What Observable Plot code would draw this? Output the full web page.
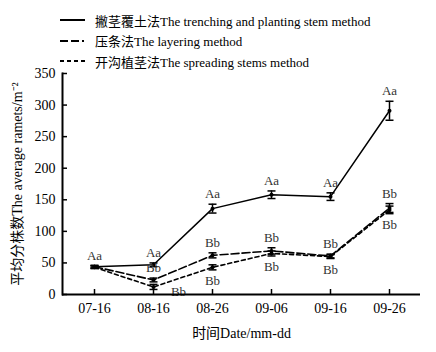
<!DOCTYPE html>
<html><head><meta charset="utf-8">
<script src="https://cdn.jsdelivr.net/npm/d3@7"></script>
<script src="https://cdn.jsdelivr.net/npm/@observablehq/plot@0.6"></script>
<style>
body{margin:0;background:#fff;}
#wrap{position:relative;width:436px;height:352px;font-family:"Liberation Serif","Noto Sans CJK SC",serif;}
.leg{position:absolute;left:60px;font-size:13px;height:16px;display:flex;align-items:center;white-space:nowrap;color:#000}
.leg svg{margin-right:6px}
#chart{position:absolute;left:0;top:0}
#chart svg text{font-family:"Liberation Serif","Noto Sans CJK SC",serif;}
</style></head><body><div id="wrap"><div id="chart"></div></div>
<script>
const dates = ["07-16","08-16","08-26","09-06","09-16","09-26"];
const yTicks = [0,50,100,150,200,250,300,350];
const seriesNames = ["撇茎覆土法The trenching and planting stem method","压条法The layering method","开沟植茎法The spreading stems method"];
const trench = [44,47,136,158,155,291];
const trenchErr = [2,3,7,6,6,15];
const trenchLab = ["Aa","Aa","Aa","Aa","Aa","Aa"];
const layer = [44,23,62,69,61,137];
const layerErr = [2,3,4,5,3,7];
const layerLab = [null,"Bb","Bb","Bb","Bb","Bb"];
const spread = [43,12,43,65,60,134];
const spreadErr = [2,4,4,4,3,6];
const spreadLab = [null,"Bb","Bb","Bb","Bb","Bb"];
const dashes = [null,"8,3","4,3"];

const mk = (s, vals, errs, labs) => dates.map((d,i)=>({series:s, date:d, value:vals[i], err:errs[i], label:labs[i]}));
const dT = mk(0, trench, trenchErr, trenchLab);
const dL = mk(1, layer, layerErr, layerLab);
const dS = mk(2, spread, spreadErr, spreadLab);
const all = [...dT, ...dL, ...dS];

const wrap = document.getElementById("wrap");
seriesNames.forEach((n,i)=>{
  const div = document.createElement("div");
  div.className = "leg";
  div.style.top = (12 + i*20.5) + "px";
  const svg = `<svg width="29" height="6"><line x1="0" y1="3" x2="25" y2="3" stroke="#000" stroke-width="2" ${dashes[i]?`stroke-dasharray="${i===1?'8,3,8,3,2,3':dashes[i]}"`:''}/></svg>`;
  div.innerHTML = svg + `<span>${n}</span>`;
  wrap.appendChild(div);
});

const cap = {draw(ctx){ ctx.moveTo(-4,0); ctx.lineTo(4,0); }};
const ff = '"Liberation Serif","Noto Sans CJK SC",serif';
const chart = Plot.plot({
  width:436, height:352,
  marginLeft:62, marginRight:16, marginTop:73, marginBottom:58,
  style:{fontFamily:ff, fontSize:"14px", color:"#000", background:"transparent"},
  x:{type:"point", domain:dates, padding:0.5},
  y:{domain:[0,350]},
  marks:[
    Plot.axisY({ticks:yTicks, tickSize:-5, tickPadding:12, strokeWidth:1.5, label:"平均分株数The average ramets/m⁻²", labelAnchor:"center", labelOffset:50, labelArrow:"none", fontSize:14, fontFamily:ff, fill:"#000"}),
    Plot.axisX({tickSize:-5, tickPadding:14, strokeWidth:1.5, label:"时间Date/mm-dd", labelAnchor:"center", labelOffset:43, labelArrow:"none", fontSize:14, fontFamily:ff, fill:"#000"}),
    Plot.line(dT, {x:"date", y:"value", stroke:"#000", strokeWidth:1.5}),
    Plot.line(dL, {x:"date", y:"value", stroke:"#000", strokeWidth:1.6, strokeDasharray:"8,3"}),
    Plot.line(dS, {x:"date", y:"value", stroke:"#000", strokeWidth:1.6, strokeDasharray:"4,3"}),
    Plot.ruleX(all, {x:"date", y1:d=>d.value-d.err, y2:d=>d.value+d.err, stroke:"#000", strokeWidth:1.5}),
    Plot.dot(all, {x:"date", y:d=>d.value-d.err, symbol:cap, stroke:"#000", strokeWidth:1.5, fill:"none"}),
    Plot.dot(all, {x:"date", y:d=>d.value+d.err, symbol:cap, stroke:"#000", strokeWidth:1.5, fill:"none"}),
    Plot.dot(all, {x:"date", y:"value", r:2, fill:"#000", stroke:null}),
    Plot.text(dT, {x:"date", y:d=>d.value+d.err, text:"label", dy:-10, fill:"#333", fontSize:13, fontFamily:ff}),
    Plot.text(dL, {x:"date", y:d=>d.value+d.err, text:"label", dy:-10, fill:"#333", fontSize:13, fontFamily:ff}),
    Plot.text(dS.filter(d=>d.date!=="08-16"), {x:"date", y:d=>d.value-d.err, text:"label", dy:11, fill:"#333", fontSize:13, fontFamily:ff}),
    Plot.text(dS.filter(d=>d.date==="08-16"), {x:"date", y:d=>d.value-d.err, text:"label", dx:25, dy:2, fill:"#333", fontSize:13, fontFamily:ff}),
    Plot.frame({anchor:"left", strokeWidth:2}),
    Plot.ruleY([0], {strokeWidth:2})
  ]
});
document.getElementById("chart").appendChild(chart);
</script></body></html>
